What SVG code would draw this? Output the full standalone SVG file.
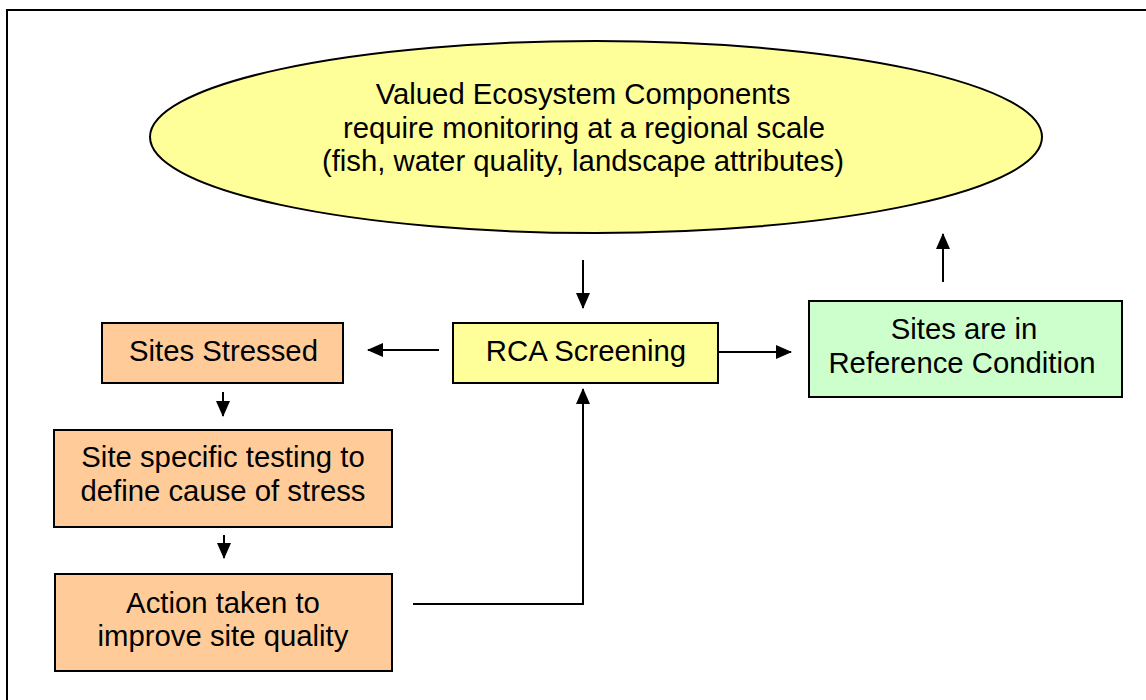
<svg xmlns="http://www.w3.org/2000/svg" width="1146" height="700" viewBox="0 0 1146 700">
  <style>
    .t { font-family: "Liberation Sans", Arial, sans-serif; font-size: 29.3px; fill: #000; text-anchor: middle; }
    .box { stroke: #000; stroke-width: 2; }
    .yellow { fill: #FFFF99; }
    .orange { fill: #FFCC99; }
    .green { fill: #CCFFCC; }
    .conn { stroke: #000; stroke-width: 2; fill: none; }
  </style>
  <defs>
    <marker id="arr" markerUnits="userSpaceOnUse" markerWidth="16" markerHeight="14" refX="15" refY="7" orient="auto">
      <path d="M0,0 L16,7 L0,14 Z" fill="#000"/>
    </marker>
  </defs>
  <rect x="0" y="0" width="1146" height="700" fill="#fff"/>
  <rect id="frame" x="7" y="10" width="1160" height="720" fill="none" stroke="#000" stroke-width="2"/>

  <g id="vec">
    <ellipse class="box yellow" cx="596" cy="137" rx="446" ry="96"/>
    <text class="t" x="583" y="104">Valued Ecosystem Components</text>
    <text class="t" x="584" y="137.5">require monitoring at a regional scale</text>
    <text class="t" x="583" y="171">(fish, water quality, landscape attributes)</text>
  </g>

  <g id="rca">
    <rect class="box yellow" x="453" y="323" width="265" height="60"/>
    <text class="t" x="586" y="361">RCA Screening</text>
  </g>

  <g id="stressed">
    <rect class="box orange" x="102" y="323" width="241" height="60"/>
    <text class="t" x="223.5" y="361">Sites Stressed</text>
  </g>

  <g id="testing">
    <rect class="box orange" x="54" y="430" width="338" height="97"/>
    <text class="t" x="223" y="467">Site specific testing to</text>
    <text class="t" x="223" y="500.5">define cause of stress</text>
  </g>

  <g id="action">
    <rect class="box orange" x="55" y="574" width="337" height="97"/>
    <text class="t" x="223" y="613">Action taken to</text>
    <text class="t" x="223" y="646">improve site quality</text>
  </g>

  <g id="reference">
    <rect class="box green" x="809" y="301" width="313" height="96"/>
    <text class="t" x="964" y="339">Sites are in</text>
    <text class="t" x="962" y="373">Reference Condition</text>
  </g>

  <g id="connectors">
    <line class="conn" x1="583" y1="260" x2="583" y2="308" marker-end="url(#arr)"/>
    <line class="conn" x1="439" y1="350" x2="368" y2="350" marker-end="url(#arr)"/>
    <line class="conn" x1="719" y1="352" x2="791" y2="352" marker-end="url(#arr)"/>
    <line class="conn" x1="943" y1="282" x2="943" y2="234" marker-end="url(#arr)"/>
    <line class="conn" x1="223" y1="392" x2="223" y2="416" marker-end="url(#arr)"/>
    <line class="conn" x1="224" y1="535" x2="224" y2="558" marker-end="url(#arr)"/>
    <polyline class="conn" points="413,604 583,604 583,389" marker-end="url(#arr)"/>
  </g>
</svg>
